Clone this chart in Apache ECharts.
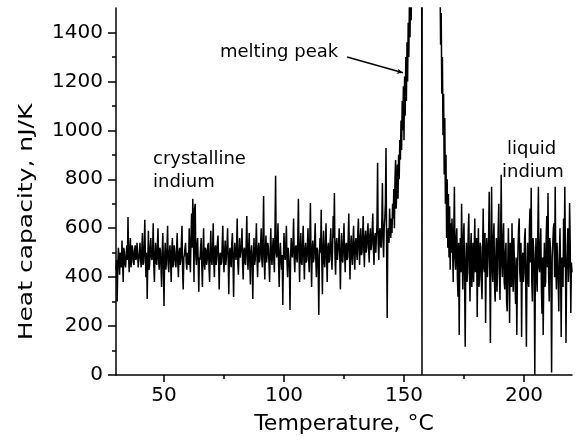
<!DOCTYPE html>
<html><head><meta charset="utf-8">
<script src="https://cdn.jsdelivr.net/npm/echarts@6/dist/echarts.min.js"></script>
<style>html,body{margin:0;padding:0;background:#fff}#c{width:579px;height:447px}</style>
</head><body><div id="c"></div>
<script>
// Temperature grid (°C) of the samples
const tStart = 30, tStep = 0.25;
// Heat capacity (nJ/K), crystalline indium, 30.00 ... 144.75 °C
const crystalline = [
  430,470,300,450,520,480,410,500,470,440,550,460,380,520,500,450,440,490,530,470,
  646,480,420,520,560,440,470,530,510,460,450,510,530,470,480,540,500,440,470,500,
  540,470,440,510,580,450,460,520,634,480,400,500,311,460,590,430,450,520,560,480,
  470,510,620,450,380,490,540,460,450,530,600,470,430,520,510,440,360,500,580,460,
  282,470,540,430,460,520,610,450,420,500,530,470,380,510,560,440,470,530,500,450,
  440,520,580,460,400,500,520,450,470,540,610,430,350,480,490,520,540,460,430,500,
  500,450,600,480,420,560,660,520,720,600,380,680,700,490,450,530,560,460,340,480,
  470,520,560,440,360,490,600,460,430,520,510,450,470,530,540,440,380,500,590,470,
  450,510,620,460,400,520,530,450,480,540,570,470,350,490,500,450,460,530,610,480,
  420,500,550,450,480,530,600,470,330,490,520,460,440,540,580,470,319,480,540,500,
  470,520,640,460,410,500,560,480,480,530,600,450,390,510,520,460,450,540,650,490,
  430,510,580,460,370,500,530,470,311,480,560,450,470,530,620,480,400,510,540,460,
  480,530,600,470,440,560,732,480,390,510,570,460,460,540,520,450,380,500,600,480,
  450,520,560,470,420,600,814,500,480,530,620,450,360,500,540,470,430,490,286,470,
  580,500,470,530,610,460,400,520,520,440,266,480,560,500,480,540,640,480,420,520,
  530,480,460,560,720,500,380,520,580,460,450,540,610,480,390,510,540,460,470,530,
  600,480,420,550,703,490,360,510,550,460,480,540,620,470,400,520,510,430,245,480,
  560,500,675,470,330,510,590,460,440,530,620,480,380,520,540,460,470,550,600,490,
  430,520,650,560,744,480,410,530,560,470,470,540,600,480,350,500,580,470,460,540,
  620,500,420,530,540,470,480,560,660,500,390,520,570,480,450,550,610,490,430,540,
  560,500,470,580,640,520,450,560,600,490,500,570,650,510,440,560,590,500,520,580,
  620,520,460,570,600,510,530,590,660,520,450,560,580,500,500,620,867,540,470,580,
  600,530,520,620,785,560,480,600,640,700,928,540,233,580,600,540,680,600,560,640
];
// Melting peak, 145.00 ... 169.75 °C (values above 1500 are off scale)
const melting = [
  580,700,640,760,600,800,879,680,760,860,720,900,800,960,880,1040,920,1120,1000,1180,
  960,1220,1060,1300,1120,1360,1200,1440,1300,1520,1380,1600,1450,1700,1600,2000,2200,2600,2900,3100,
  3200,3500,3900,4200,4600,5000,5300,5600,6000,6000,0,6000,6000,5800,5600,5400,5200,5000,4800,4600,
  4400,4200,4000,3800,3600,3400,3200,3050,2900,2750,2600,2450,2300,2200,2100,2000,1900,1820,1750,1700,
  1650,1350,1480,1150,1300,980,1150,820,1050,700,900,560,800,520,740,480,690,430,620,500
];
// Liquid indium, 170.00 ... 220.00 °C
const liquid = [
  640,520,380,600,769,480,430,560,600,400,320,540,164,480,560,420,700,500,350,560,
  620,380,115,460,540,380,420,580,660,440,300,520,580,360,460,540,380,500,640,420,
  450,560,237,480,600,360,400,540,520,380,310,500,680,440,420,580,213,460,560,400,
  470,560,749,400,131,520,769,440,380,560,620,360,300,480,560,340,440,600,700,420,
  307,520,818,460,400,560,620,380,350,500,540,300,260,460,600,420,213,540,480,360,
  620,440,340,560,560,380,290,480,164,400,520,600,640,420,380,540,155,460,500,380,
  420,560,600,340,115,440,540,380,360,600,680,460,765,380,300,560,520,420,0,460,
  560,400,340,580,769,440,420,520,600,360,250,480,164,420,540,360,380,560,650,440,
  744,420,300,560,520,380,10,480,480,600,620,400,769,460,350,540,540,380,260,500,
  600,420,155,480,480,360,640,440,769,500,131,420,500,600,380,460,703,540,253,460,
  420
];
const xMajorTicks = [50, 100, 150, 200];
const xMinorTicks = [75, 125, 175];
const yMajorTicks = [0, 200, 400, 600, 800, 1000, 1200, 1400];
const yMinorTicks = [100, 300, 500, 700, 900, 1100, 1300];
const arrowFrom = [126.3, 1300], arrowTo = [149.6, 1235];

const values = crystalline.concat(melting, liquid);
const data = values.map((v, i) => [tStart + i * tStep, v]);

const FONT = '"DejaVu Sans", "Liberation Sans", Arial, sans-serif';
const chart = echarts.init(document.getElementById('c'), null, {renderer: 'canvas'});
const axisCommon = {
  axisLine: {lineStyle: {color: '#000', width: 1.5}},
  splitLine: {show: false}
};
chart.setOption({
  animation: false,
  backgroundColor: '#fff',
  grid: {left: 116, right: 7, top: 8, bottom: 72},
  xAxis: [{
    type: 'value', min: 30, max: 220, position: 'bottom',
    ...axisCommon,
    axisTick: {customValues: xMajorTicks, length: 7, lineStyle: {color: '#000', width: 1.5}},
    axisLabel: {customValues: xMajorTicks, color: '#000', fontSize: 20, fontFamily: FONT, margin: 11,
      formatter: v => String(v)},
    name: 'Temperature, °C', nameLocation: 'middle', nameGap: 38,
    nameTextStyle: {color: '#000', fontSize: 22, fontFamily: FONT}
  }, {
    type: 'value', min: 30, max: 220, position: 'bottom',
    axisLine: {show: false}, splitLine: {show: false},
    axisTick: {customValues: xMinorTicks, length: 4, lineStyle: {color: '#000', width: 1.5}},
    axisLabel: {show: false}
  }],
  yAxis: [{
    type: 'value', min: 0, max: 1500, position: 'left',
    ...axisCommon,
    axisTick: {customValues: yMajorTicks, length: 8, lineStyle: {color: '#000', width: 1.5}},
    axisLabel: {customValues: yMajorTicks, color: '#000', fontSize: 20, fontFamily: FONT, margin: 13,
      formatter: v => String(v)}
  }, {
    type: 'value', min: 0, max: 1500, position: 'left',
    axisLine: {show: false}, splitLine: {show: false},
    axisTick: {customValues: yMinorTicks, length: 4, lineStyle: {color: '#000', width: 1.5}},
    axisLabel: {show: false}
  }],
  series: [{
    type: 'line', xAxisIndex: 0, yAxisIndex: 0, data: data,
    showSymbol: false, symbol: 'none', clip: true, silent: true,
    lineStyle: {color: '#000', width: 1.5},
    markLine: {
      silent: true, symbol: ['none', 'arrow'], symbolSize: [4, 6],
      lineStyle: {color: '#000', width: 1.5, type: 'solid'},
      label: {show: false},
      data: [[{coord: arrowFrom}, {coord: arrowTo}]]
    }
  }],
  graphic: [
    {type: 'text', x: 27, y: 222, rotation: Math.PI / 2, scaleX: 1.25,
      style: {text: 'Heat capacity, nJ/K', font: '20px ' + FONT, fill: '#000', align: 'center', verticalAlign: 'middle'}},
    {type: 'text', left: 220, top: 43, style: {text: 'melting peak', font: '18px ' + FONT, fill: '#000'}},
    {type: 'text', left: 153, top: 150, style: {text: 'crystalline', font: '18px ' + FONT, fill: '#000'}},
    {type: 'text', left: 153, top: 173, style: {text: 'indium', font: '18px ' + FONT, fill: '#000'}},
    {type: 'text', left: 507, top: 140, style: {text: 'liquid', font: '18px ' + FONT, fill: '#000'}},
    {type: 'text', left: 502, top: 163, style: {text: 'indium', font: '18px ' + FONT, fill: '#000'}}
  ]
});
</script>
</body></html>
